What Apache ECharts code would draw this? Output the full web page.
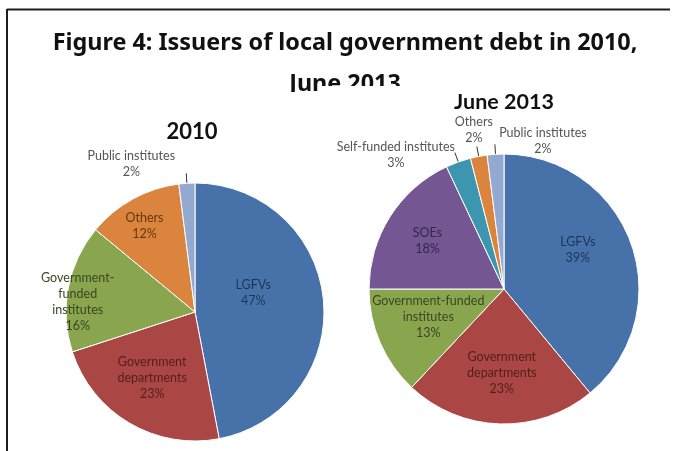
<!DOCTYPE html>
<html>
<head>
<meta charset="utf-8">
<script src="https://cdn.jsdelivr.net/npm/echarts@6/dist/echarts.min.js"></script>
<style>
  html, body { margin: 0; padding: 0; background: #fff; }
  #chart { width: 677px; height: 451px; }
</style>
</head>
<body>
<div id="chart"></div>
<script>
// Issuers of local government debt, shares in percent
const issuers2010 = ['LGFVs', 'Government departments', 'Government-funded institutes', 'Others', 'Public institutes'];
const labels2010 = ['LGFVs', 'Government\ndepartments', 'Government-\nfunded\ninstitutes', 'Others', 'Public institutes'];
const shares2010 = [47, 23, 16, 12, 2];

const issuers2013 = ['LGFVs', 'Government departments', 'Government-funded institutes', 'SOEs', 'Self-funded institutes', 'Others', 'Public institutes'];
const labels2013 = ['LGFVs', 'Government\ndepartments', 'Government-funded\ninstitutes', 'SOEs', 'Self-funded institutes', 'Others', 'Public institutes'];
const shares2013 = [39, 23, 13, 18, 3, 2, 2];

const titleLines = ['Figure 4: Issuers of local government debt in 2010,', 'June 2013'];
const pieTitles = ['2010', 'June 2013'];

// slice fill and inside-label colours per issuer
const fill = {
  'LGFVs': '#4672a9',
  'Government departments': '#aa4643',
  'Government-funded institutes': '#89a54e',
  'SOEs': '#735692',
  'Self-funded institutes': '#3d96af',
  'Others': '#db843d',
  'Public institutes': '#93a9d0'
};
const ink = {
  'LGFVs': '#1f3557',
  'Government departments': '#55201e',
  'Government-funded institutes': '#3a4624',
  'SOEs': '#35274a',
  'Self-funded institutes': '#555555',
  'Others': '#653810',
  'Public institutes': '#555555'
};
const outsideIssuers = ['Self-funded institutes', 'Public institutes'];

// label nudges (px) per slice, in slice order
const nudge2010 = [[-9, -13], [-8.5, 7.5], [-51, 3], [-18, -27], [-50, -9]];
const nudge2013 = [[7.5, -15], [0, 13.5], [-11, 0], [-17, -10], [-54, 2], [2, -17], [53, -3]];

function buildData(issuers, labels, shares, isLate) {
  return issuers.map((name, i) => {
    const outside = outsideIssuers.includes(name) || (isLate && name === 'Others');
    return {
      name: name,
      value: shares[i],
      itemStyle: { color: fill[name] },
      label: {
        position: outside ? 'outside' : 'inside',
        color: outside ? '#555555' : ink[name],
        formatter: labels[i] + '\n' + shares[i] + '%'
      },
      labelLine: { show: outside, length: 10, length2: 0, lineStyle: { color: '#333333', width: 1 } }
    };
  });
}

function makePie(center, radius, data, nudges) {
  return {
    type: 'pie',
    center: center,
    radius: radius,
    startAngle: 90,
    clockwise: true,
    z: 5,
    silent: true,
    avoidLabelOverlap: false,
    itemStyle: { borderColor: '#ffffff', borderWidth: 1 },
    label: {
      fontFamily: 'Lato',
      fontSize: 12.5,
      lineHeight: 16,
      align: 'center',
      distanceToLabelLine: 5
    },
    labelLayout: function (p) {
      const n = nudges[p.dataIndex] || [0, 0];
      return { dx: n[0], dy: n[1], align: 'center', verticalAlign: 'middle' };
    },
    emphasis: { disabled: true },
    data: data
  };
}

const chart = echarts.init(document.getElementById('chart'), null, { renderer: 'canvas' });

chart.setOption({
  animation: false,
  backgroundColor: '#ffffff',
  graphic: [
    // frame
    { type: 'line', z: 0, shape: { x1: 7, y1: 9.5, x2: 670, y2: 9.5 }, style: { stroke: '#1e1e1e', lineWidth: 2 } },
    { type: 'line', z: 0, shape: { x1: 7, y1: 9, x2: 7, y2: 451 }, style: { stroke: '#1e1e1e', lineWidth: 2 } },
    // figure heading
    { type: 'text', z: 0, x: 345, y: 43, style: { text: titleLines[0], font: 'bold 23.4px "Noto Sans"', fill: '#111', textAlign: 'center', textVerticalAlign: 'middle', align: 'center', verticalAlign: 'middle' } },
    { type: 'text', z: 0, x: 345, y: 84, style: { text: titleLines[1], font: 'bold 23.4px "Noto Sans"', fill: '#111', textAlign: 'center', textVerticalAlign: 'middle', align: 'center', verticalAlign: 'middle' } },
    // chart panels sit over the heading's second line
    { type: 'rect', z: 1, shape: { x: 20, y: 92, width: 302, height: 359 }, style: { fill: '#ffffff' } },
    { type: 'rect', z: 1, shape: { x: 322, y: 86, width: 346, height: 365 }, style: { fill: '#ffffff' } },
    // panel titles
    { type: 'text', z: 3, x: 192, y: 132, style: { text: pieTitles[0], font: 'bold 22px Lato', fill: '#111', textAlign: 'center', textVerticalAlign: 'middle', align: 'center', verticalAlign: 'middle' } },
    { type: 'text', z: 3, x: 504, y: 102, style: { text: pieTitles[1], font: 'bold 21.5px Lato', fill: '#111', textAlign: 'center', textVerticalAlign: 'middle', align: 'center', verticalAlign: 'middle' } }
  ],
  series: [
    makePie([195, 312], 129, buildData(issuers2010, labels2010, shares2010, false), nudge2010),
    makePie([504, 289], 135, buildData(issuers2013, labels2013, shares2013, true), nudge2013)
  ]
});
</script>
</body>
</html>
